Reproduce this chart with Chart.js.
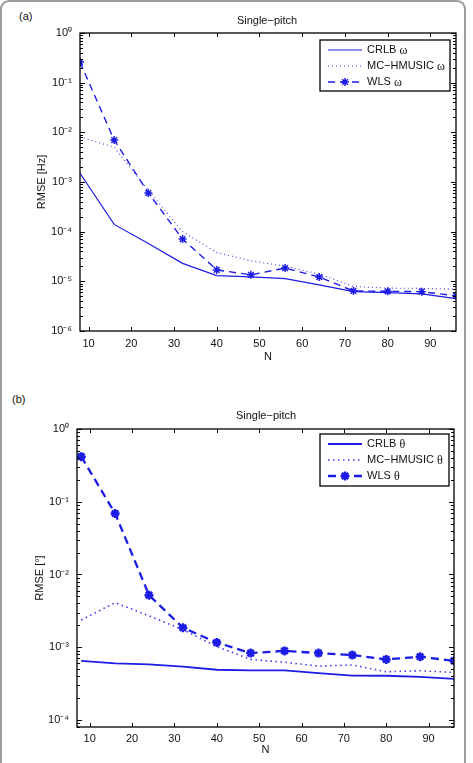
<!DOCTYPE html>
<html><head><meta charset="utf-8">
<script src="https://cdn.jsdelivr.net/npm/chart.js@4/dist/chart.umd.min.js"></script>
<style>
html,body{margin:0;padding:0;background:#fff;overflow:hidden;width:473px;height:763px;}
#frame{position:absolute;left:0;top:0;width:462px;height:800px;border:2px solid #9d9d9d;border-bottom:none;border-radius:9px 9px 0 0;}
.panel{position:absolute;left:0;width:473px;}
.lbl{position:absolute;font:11px "Liberation Sans",Arial,sans-serif;color:#111;}
</style></head><body>
<div id="frame"></div>
<div class="lbl" style="left:19px;top:10px">(a)</div>
<div class="lbl" style="left:12px;top:393px">(b)</div>
<div class="panel" style="top:0;height:380px"><canvas id="ca" style="width:473px;height:380px"></canvas></div>
<div class="panel" style="top:380px;height:383px"><canvas id="cb" style="width:473px;height:383px"></canvas></div>
<script>
// ---- data ----
const N = [8,16,24,32,40,48,56,64,72,80,88,96];
const crlbOmega   = [1.5e-3,1.4e-4,5.8e-5,2.3e-5,1.3e-5,1.23e-5,1.13e-5,8.5e-6,6.2e-6,5.9e-6,5.6e-6,4.5e-6];
const hmusicOmega = [8.1e-3,5.0e-3,6.8e-4,1.0e-4,3.8e-5,2.6e-5,2.0e-5,1.4e-5,7.9e-6,7.3e-6,7.2e-6,7.0e-6];
const wlsOmega    = [0.26,7.0e-3,6.0e-4,7.1e-5,1.7e-5,1.35e-5,1.85e-5,1.22e-5,6.4e-6,6.3e-6,6.2e-6,5.1e-6];
const crlbTheta   = [6.5e-4,6.0e-4,5.8e-4,5.4e-4,4.9e-4,4.8e-4,4.8e-4,4.4e-4,4.07e-4,4.05e-4,3.9e-4,3.66e-4];
const hmusicTheta = [2.37e-3,4.1e-3,2.7e-3,1.74e-3,1.02e-3,6.8e-4,6.2e-4,5.5e-4,5.7e-4,4.6e-4,4.75e-4,4.5e-4];
const wlsTheta    = [0.417,0.069,5.2e-3,1.85e-3,1.16e-3,8.3e-4,8.9e-4,8.3e-4,7.8e-4,6.8e-4,7.4e-4,6.5e-4];
const xTickValues = [10,20,30,40,50,60,70,80,90];
const yTickValuesA = [1e-6,1e-5,1e-4,1e-3,1e-2,1e-1,1];
const yTickLabelsA = ['10\u207B\u2076','10\u207B\u2075','10\u207B\u2074','10\u207B\u00B3','10\u207B\u00B2','10\u207B\u00B9','10\u2070'];
const yTickValuesB = [1e-4,1e-3,1e-2,1e-1,1];
const yTickLabelsB = ['10\u207B\u2074','10\u207B\u00B3','10\u207B\u00B2','10\u207B\u00B9','10\u2070'];
const labelsA = ['CRLB \u03C9','MC\u2212HMUSIC \u03C9','WLS \u03C9'];
const labelsB = ['CRLB \u03B8','MC\u2212HMUSIC \u03B8','WLS \u03B8'];

const SANS = '"Liberation Sans", Arial, sans-serif';
const BLUE = '#1c1ce6';

function pts(ys){ return N.map((x,i)=>({x:x,y:ys[i]})); }

function drawStar(ctx,x,y,r){
  ctx.beginPath();
  for(let k=0;k<4;k++){ const a=k*Math.PI/4; ctx.moveTo(x-r*Math.cos(a),y-r*Math.sin(a)); ctx.lineTo(x+r*Math.cos(a),y+r*Math.sin(a)); }
  ctx.stroke();
}

const decor = {
  id:'decor',
  afterDraw(chart, args, o){
    const ctx=chart.ctx, a=chart.chartArea, xs=chart.scales.x, ys=chart.scales.y;
    ctx.save();
    ctx.strokeStyle='#000'; ctx.lineWidth=1;
    ctx.beginPath();
    o.xTicks.forEach(v=>{const px=Math.round(xs.getPixelForValue(v))+0.5;
      ctx.moveTo(px,a.bottom); ctx.lineTo(px,a.bottom-4); ctx.moveTo(px,a.top); ctx.lineTo(px,a.top+4);});
    const lo=Math.floor(Math.log10(ys.min)), hi=Math.round(Math.log10(ys.max));
    for(let k=lo;k<=hi;k++) for(let m=1;m<10;m++){
      const v=m*Math.pow(10,k); if(v<ys.min*0.999||v>ys.max*1.001) continue;
      const py=Math.round(ys.getPixelForValue(v))+0.5; const len=m===1?5:3;
      ctx.moveTo(a.left,py); ctx.lineTo(a.left+len,py); ctx.moveTo(a.right,py); ctx.lineTo(a.right-len,py);
    }
    ctx.stroke();
    ctx.lineWidth=1.3; ctx.strokeRect(a.left,a.top,a.right-a.left,a.bottom-a.top);
    // titles
    ctx.fillStyle='#111'; ctx.font='11px '+SANS; ctx.textAlign='center'; ctx.textBaseline='middle';
    ctx.fillText(o.title,o.titleX,o.titleY);
    ctx.fillText(o.xTitle,(a.left+a.right)/2,o.xTitleY);
    ctx.save(); ctx.translate(o.yTitleX,(a.top+a.bottom)/2); ctx.rotate(-Math.PI/2); ctx.fillText(o.yTitle,0,0); ctx.restore();
    // legend
    const L=o.legend, bx=a.right-L.insetRight-L.w, by=a.top+L.insetTop;
    ctx.fillStyle='#fff'; ctx.fillRect(bx,by,L.w,L.h);
    ctx.strokeStyle='#000'; ctx.lineWidth=1.3; ctx.strokeRect(bx,by,L.w,L.h);
    chart.data.datasets.forEach((ds,i)=>{
      const y=by+10+i*16;
      ctx.save(); ctx.strokeStyle=ds.borderColor; ctx.lineWidth=ds.borderWidth; ctx.setLineDash(ds.borderDash||[]);
      ctx.beginPath(); ctx.moveTo(bx+8,y); ctx.lineTo(bx+42,y); ctx.stroke(); ctx.restore();
      if(ds.pointRadius>0){ ctx.save(); ctx.strokeStyle=ds.borderColor; ctx.lineWidth=ds.pointBorderWidth; drawStar(ctx,bx+25,y,ds.pointRadius); ctx.restore(); }
      const parts=ds.label.split(' '); const g=parts.pop(); const name=parts.join(' ')+' ';
      ctx.fillStyle='#111'; ctx.textAlign='left'; ctx.font='11px '+SANS; ctx.fillText(name,bx+47,y);
      const w1=ctx.measureText(name).width; ctx.font='12px "Liberation Serif", serif'; ctx.fillText(g,bx+47+w1,y+0.5);
    });
    ctx.restore();
  }
};

function makeChart(id, cfg){
  return new Chart(document.getElementById(id), {
    type:'line',
    data:{datasets:[
      {label:cfg.labels[0],data:pts(cfg.crlb),borderColor:BLUE,borderWidth:cfg.lw[0],pointRadius:0,tension:0},
      {label:cfg.labels[1],data:pts(cfg.hmusic),borderColor:'#3a3aee',borderWidth:cfg.lw[1],borderDash:cfg.dot,pointRadius:0,tension:0},
      {label:cfg.labels[2],data:pts(cfg.wls),borderColor:BLUE,borderWidth:cfg.lw[2],borderDash:cfg.dash,
        pointStyle:'star',pointRadius:cfg.pr,pointBorderWidth:cfg.pbw,pointBorderColor:BLUE,pointBackgroundColor:BLUE,tension:0}
    ]},
    options:{
      responsive:false, animation:false, devicePixelRatio:1,
      layout:{padding:{left:0,top:cfg.padTop,right:cfg.padRight,bottom:0}},
      plugins:{legend:{display:false},tooltip:{enabled:false},decor:cfg.decor},
      scales:{
        x:{type:'linear',min:cfg.xmin,max:96,
          afterBuildTicks:s=>{s.ticks=xTickValues.map(v=>({value:v}));},
          afterFit:s=>{s.height=cfg.xH;},
          grid:{display:false,drawTicks:false},border:{display:false},
          ticks:{autoSkip:false,maxRotation:0,padding:cfg.xPad,color:'#111',font:{family:SANS,size:11}}},
        y:{type:'logarithmic',min:cfg.ymin,max:1,
          afterBuildTicks:s=>{s.ticks=cfg.yVals.map(v=>({value:v}));},
          afterFit:s=>{s.width=cfg.yW;},
          grid:{display:false,drawTicks:false},border:{display:false},
          ticks:{autoSkip:false,padding:8,color:'#111',font:{family:SANS,size:11},
            callback:(v,i)=>cfg.yLabels[i]}}
      }
    },
    plugins:[decor]
  });
}

makeChart('ca',{labels:labelsA,crlb:crlbOmega,hmusic:hmusicOmega,wls:wlsOmega,
  lw:[1.2,1.1,1.4],dot:[1,3],dash:[7,5],pr:4,pbw:1.5,
  padTop:33,padRight:17,xH:49,yW:80,xPad:6,xmin:8,ymin:1e-6,yVals:yTickValuesA,yLabels:yTickLabelsA,
  decor:{xTicks:xTickValues,title:'Single\u2212pitch',titleX:267,titleY:21,xTitle:'N',xTitleY:357,yTitle:'RMSE [Hz]',yTitleX:42,
    legend:{insetRight:6,insetTop:7,w:130,h:51}}});

makeChart('cb',{labels:labelsB,crlb:crlbTheta,hmusic:hmusicTheta,wls:wlsTheta,
  lw:[1.8,1.6,2.3],dot:[1.5,3.5],dash:[8,5],pr:4.5,pbw:2.5,
  padTop:49,padRight:19,xH:36,yW:77,xPad:5,xmin:7,ymin:8e-5,yVals:yTickValuesB,yLabels:yTickLabelsB,
  decor:{xTicks:xTickValues,title:'Single\u2212pitch',titleX:266,titleY:36,xTitle:'N',xTitleY:370,yTitle:'RMSE [\u00B0]',yTitleX:40,
    legend:{insetRight:5,insetTop:5,w:129,h:52}}});
</script>
</body></html>
